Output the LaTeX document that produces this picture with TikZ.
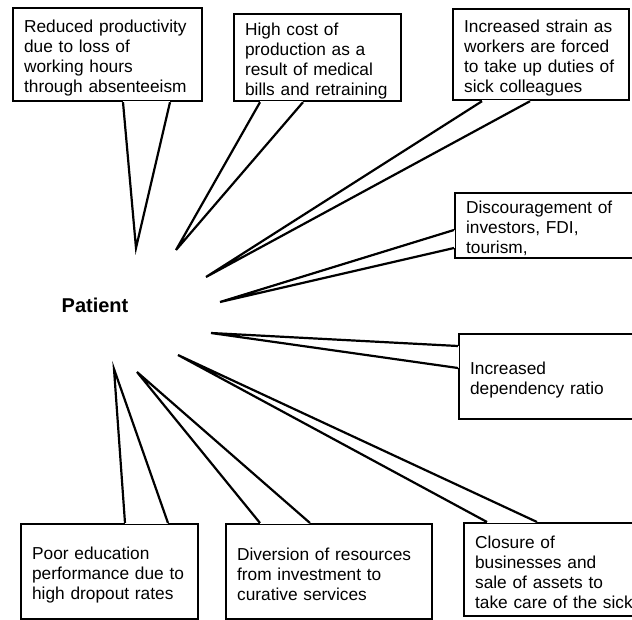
\documentclass[tikz,border=0pt]{standalone}
\usepackage{fontspec}
\setmainfont{Liberation Sans}
\usetikzlibrary{calc}
\tikzset{
  cbox/.style={draw,fill=white,line width=2.2pt,anchor=north west,align=left,
    inner xsep=11pt,inner ysep=2pt,text height=18.6pt,font=\fontsize{17.3}{20}\selectfont},
  wedge/.style={draw,line width=2.2pt,line join=miter},
}
\begin{document}
\begin{tikzpicture}[x=1pt,y=-1pt]
  \useasboundingbox (0,0) rectangle (632,619);
  \clip (0,0) rectangle (632,619);
  \fill[white] (0,0) rectangle (632,619);
  \node[font=\fontsize{20}{24}\selectfont\bfseries] (patient) at (95,305) {Patient};
  % callout boxes
  \node[cbox,minimum width=189pt,minimum height=93pt,text width=167pt] (prod) at (12,7)
    {Reduced productivity\\due to loss of\\working hours\\through absenteeism};
  \node[cbox,minimum width=167pt,minimum height=87pt,text width=145pt] (cost) at (233,13)
    {High cost of\\production as a\\result of medical\\bills and retraining};
  \node[cbox,minimum width=176pt,minimum height=91pt,text width=154pt] (strain) at (452,8)
    {Increased strain as\\workers are forced\\to take up duties of\\sick colleagues};
  \node[cbox,minimum width=206pt,minimum height=63pt,text width=184pt] (invest) at (454,192)
    {Discouragement of\\investors, FDI,\\tourism,};
  \node[cbox,minimum width=202pt,minimum height=85pt,text width=180pt] (depend) at (458,333)
    {Increased\\dependency ratio};
  \node[cbox,minimum width=197pt,minimum height=93pt,text width=175pt] (closure) at (463,522)
    {Closure of\\businesses and\\sale of assets to\\take care of the sick};
  \node[cbox,minimum width=206pt,minimum height=95pt,text width=184pt] (divert) at (225,523)
    {Diversion of resources\\from investment to\\curative services};
  \node[cbox,minimum width=177pt,minimum height=95pt,text width=155pt] (edu) at (20,523)
    {Poor education\\performance due to\\high dropout rates};
  % pointer tips round the patient
  \coordinate (prod-tip) at (136,248);
  \coordinate (cost-tip) at (176,250);
  \coordinate (strain-tip) at (206,277);
  \coordinate (invest-tip) at (220,302);
  \coordinate (depend-tip) at (211,333);
  \coordinate (closure-tip) at (178,355);
  \coordinate (divert-tip) at (137,372);
  \coordinate (edu-tip) at (114,369);
  \foreach \n/\c/\a/\b in {prod/south west/{111,0}/{158,0}, cost/south west/{27,0}/{70,0},
      strain/south west/{30,0}/{78,0}, invest/north west/{0,38}/{0,56},
      depend/north west/{0,13}/{0,35}, closure/north west/{24,0}/{74,0},
      divert/north west/{35,0}/{85,0}, edu/north west/{105,0}/{148,0}}{
    \coordinate (\n-a) at ($(\n.\c)+(\a)$);
    \coordinate (\n-b) at ($(\n.\c)+(\b)$);
    \fill[white] (\n-a) -- (\n-tip) -- (\n-b) -- cycle;
    \draw[white,line width=2.8pt] (\n-a) -- (\n-b);
    \draw[wedge] (\n-a) -- (\n-tip) -- (\n-b);
  }
\end{tikzpicture}
\end{document}
